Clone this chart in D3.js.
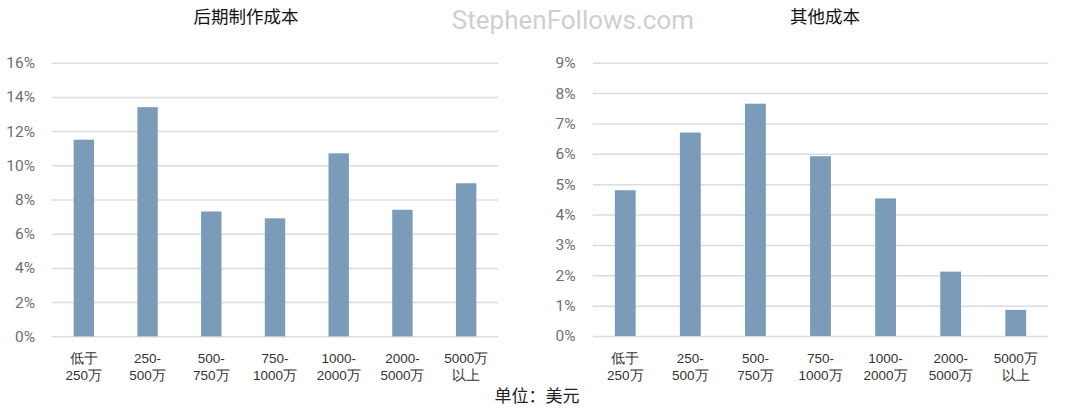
<!DOCTYPE html>
<html><head><meta charset="utf-8">
<script src="https://cdn.jsdelivr.net/npm/d3@7"></script>
<style>
html,body{margin:0;padding:0;background:#fff;}
svg{display:block;font-family:"Noto Sans CJK SC","Noto Sans",sans-serif;}
</style></head>
<body><svg id="c" width="1080" height="414"></svg>
<script>
const categories = ["低于\n250万","250-\n500万","500-\n750万","750-\n1000万","1000-\n2000万","2000-\n5000万","5000万\n以上"];
const postProduction = [11.5, 13.4, 7.3, 6.9, 10.7, 7.4, 8.95];
const otherCosts = [4.8, 6.7, 7.65, 5.92, 4.53, 2.12, 0.86];
const leftTicks = [0,2,4,6,8,10,12,14,16];
const rightTicks = [0,1,2,3,4,5,6,7,8,9];
const titles = ["后期制作成本","其他成本"];
const unitLabel = "单位：美元";
const watermark = "StephenFollows.com";

const svg = d3.select("#c");
const barColor = "#7a9cb8";

function panel(cfg){
  const g = svg.append("g");
  const x = d3.scaleBand().domain(categories).range([cfg.x0, cfg.x1]).paddingInner(0.68).paddingOuter(0.34);
  const y = d3.scaleLinear().domain([0, cfg.max]).range([cfg.yb, cfg.yt]);
  const ya = d3.axisLeft(y).tickValues(cfg.ticks).tickFormat(d => d + "%").tickSize(-(cfg.x1 - cfg.x0)).tickPadding(17);
  const ag = g.append("g").attr("transform", `translate(${cfg.x0},0)`).call(ya);
  ag.select(".domain").remove();
  ag.selectAll(".tick line").attr("stroke", "#dcdcdc").attr("stroke-width", 1.5);
  ag.selectAll(".tick text").attr("fill", "#6f6f6f").attr("font-size", 15.5).attr("font-family", "Roboto, 'Noto Sans', sans-serif");
  g.selectAll("rect.bar").data(cfg.values).join("rect").attr("class","bar")
    .attr("x", (d,i) => x(categories[i]))
    .attr("width", x.bandwidth())
    .attr("y", d => y(d))
    .attr("height", d => y(0) - y(d))
    .attr("fill", barColor);
  const xa = d3.axisBottom(x).tickSize(0).tickFormat("");
  const xg = g.append("g").attr("transform", `translate(0,${cfg.yb})`).call(xa);
  xg.select(".domain").remove();
  xg.selectAll(".tick").each(function(d){
    const lines = d.split("\n");
    const t = d3.select(this).append("text").attr("fill","#333").attr("font-size",13.5).attr("text-anchor","middle");
    lines.forEach((l,i) => t.append("tspan").attr("x",0).attr("y", 27 + i*17).text(l));
  });
  svg.append("text").attr("x", cfg.tx).attr("y", 23).attr("text-anchor","middle")
    .attr("font-size", 17.5).attr("fill", "#111").text(cfg.title);
}

panel({x0:52, x1:498, yt:62.7, yb:336.3, max:16, ticks:leftTicks, values:postProduction, title:titles[0], tx:246});
panel({x0:592.7, x1:1048.3, yt:62.7, yb:336, max:9, ticks:rightTicks, values:otherCosts, title:titles[1], tx:825});

svg.append("text").attr("x", 573).attr("y", 29).attr("text-anchor","middle")
  .attr("font-family","Roboto, sans-serif").attr("font-size", 26).attr("fill","#cfcfcf").text(watermark);
svg.append("text").attr("x", 537).attr("y", 402).attr("text-anchor","middle")
  .attr("font-size", 17).attr("fill","#222").text(unitLabel);
</script></body></html>
